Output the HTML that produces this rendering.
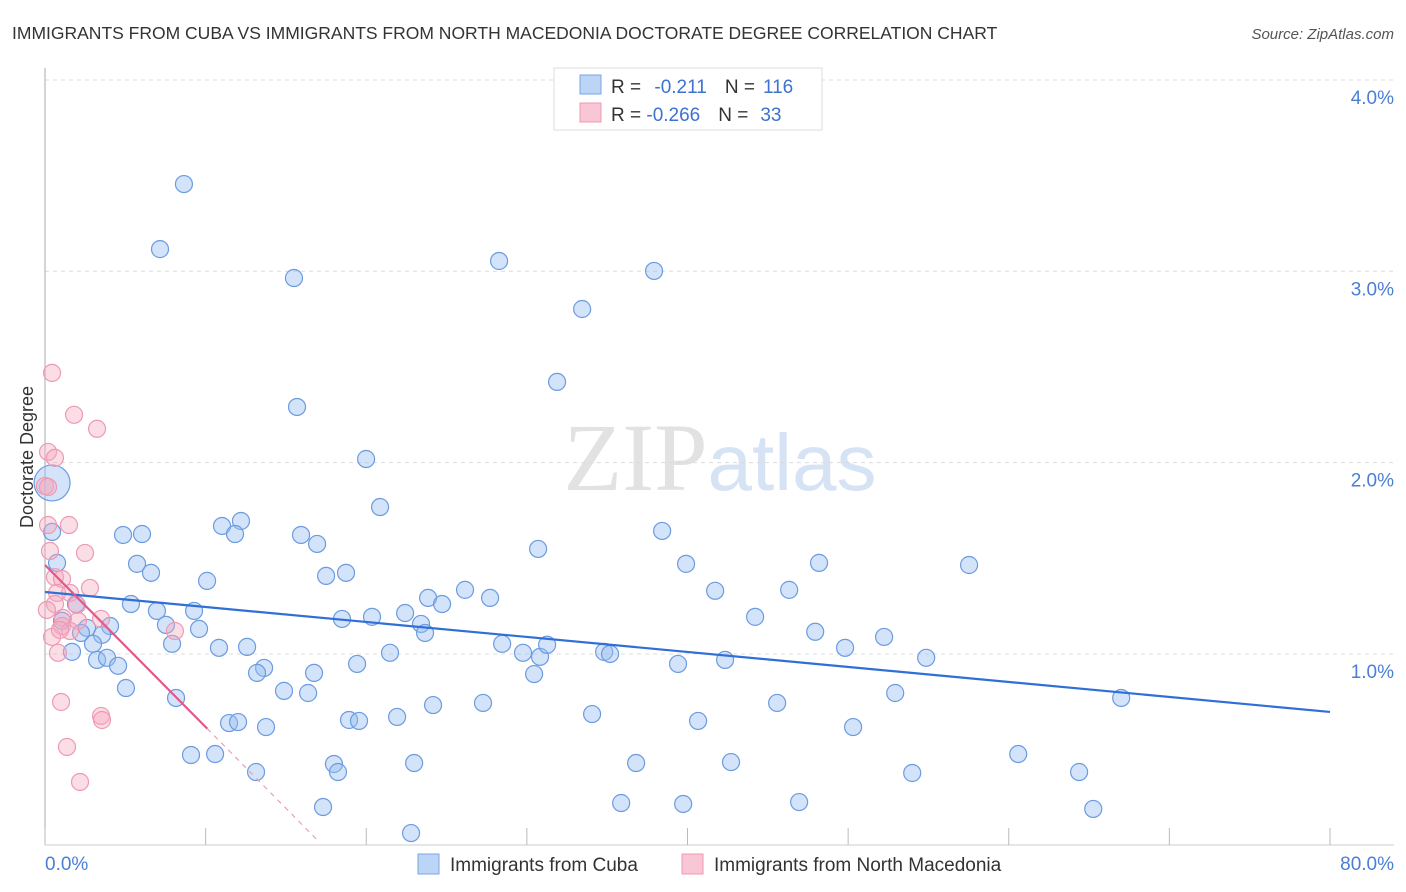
<!DOCTYPE html>
<html><head><meta charset="utf-8"><style>
body{margin:0;background:#fff;font-family:"Liberation Sans",sans-serif;}
</style></head><body>
<svg id="chart" width="1406" height="892" xmlns="http://www.w3.org/2000/svg" style="display:block">
<text x="12" y="39" font-size="17.5" fill="#333">IMMIGRANTS FROM CUBA VS IMMIGRANTS FROM NORTH MACEDONIA DOCTORATE DEGREE CORRELATION CHART</text>
<text x="1394" y="39" font-size="15" fill="#555" text-anchor="end" font-style="italic">Source: ZipAtlas.com</text>
<text x="720" y="490" font-size="96" text-anchor="middle"><tspan font-family="Liberation Serif" fill="#e2e2e2">ZIP</tspan><tspan fill="#d6e3f5" font-size="80">atlas</tspan></text>
<g id="grid"></g>
<g id="axes"></g>
<g id="pts"></g>
<g id="trends"></g>
<text transform="translate(33,457) rotate(-90)" font-size="18" fill="#333" text-anchor="middle">Doctorate Degree</text>
<text x="45" y="870" font-size="19" fill="#4a7fd4">0.0%</text>
<text x="1394" y="870" font-size="19" fill="#4a7fd4" text-anchor="end">80.0%</text>
<g>
<rect x="554" y="68" width="268" height="62" fill="#fff" stroke="#ddd"/>
<rect x="580" y="75" width="21" height="19" fill="#bcd4f5" stroke="#7aa6e6"/>
<rect x="580" y="103" width="21" height="19" fill="#f9c6d5" stroke="#ef98b2"/>
<text x="611" y="93" font-size="19" fill="#333">R = <tspan fill="#3d72cf" dx="8">-0.211</tspan><tspan dx="18" fill="#333">N =</tspan><tspan dx="8" fill="#3d72cf">116</tspan></text>
<text x="611" y="121" font-size="19" fill="#333">R = <tspan fill="#3d72cf">-0.266</tspan><tspan dx="18" fill="#333">N =</tspan><tspan dx="12" fill="#3d72cf">33</tspan></text>
</g>
<g>
<rect x="418" y="854" width="21" height="20" fill="#bcd4f5" stroke="#7aa6e6"/>
<text x="450" y="871" font-size="19" fill="#333">Immigrants from Cuba</text>
<rect x="682" y="854" width="21" height="20" fill="#f9c6d5" stroke="#ef98b2"/>
<text x="714" y="871" font-size="19" fill="#333">Immigrants from North Macedonia</text>
</g>
</svg>
<script>
const yTicks=[1,2,3,4];
const yTickLabels=["1.0%","2.0%","3.0%","4.0%"];
const xTicks=[0,10,20,30,40,50,60,70,80];
const cubaPts=[[8.65,3.456],[7.16,3.116],[15.50,2.965],[28.27,3.054],[37.92,3.002],[33.44,2.803],[31.88,2.422],[15.69,2.291],[19.99,2.019],[20.86,1.768],[0.44,1.638],[4.86,1.622],[6.04,1.627],[11.02,1.669],[12.20,1.695],[11.83,1.627],[15.94,1.622],[16.94,1.575],[30.70,1.549],[38.42,1.643],[39.91,1.471],[48.19,1.476],[57.53,1.465],[0.75,1.476],[5.73,1.471],[6.60,1.424],[10.09,1.382],[17.50,1.408],[18.74,1.424],[26.15,1.335],[27.71,1.293],[23.85,1.293],[24.72,1.261],[22.42,1.214],[23.41,1.157],[20.36,1.194],[18.49,1.183],[41.72,1.330],[46.33,1.335],[44.21,1.194],[5.35,1.261],[6.97,1.225],[9.28,1.225],[1.93,1.261],[1.06,1.173],[2.62,1.136],[4.05,1.146],[7.53,1.152],[9.59,1.131],[2.24,1.110],[3.55,1.100],[1.68,1.011],[2.99,1.053],[7.91,1.053],[10.83,1.032],[12.58,1.037],[13.64,0.927],[13.20,0.901],[16.75,0.901],[19.43,0.948],[21.48,1.006],[23.66,1.110],[28.46,1.053],[29.76,1.006],[30.82,0.985],[31.26,1.048],[30.45,0.895],[34.81,1.011],[35.18,1.000],[39.41,0.948],[42.34,0.969],[47.95,1.116],[49.81,1.032],[52.24,1.089],[54.86,0.980],[3.24,0.969],[3.86,0.980],[4.55,0.938],[5.04,0.822],[8.16,0.770],[14.88,0.807],[16.38,0.796],[24.16,0.733],[27.27,0.744],[21.92,0.671],[18.93,0.655],[19.55,0.650],[11.46,0.639],[12.02,0.644],[13.76,0.618],[34.06,0.686],[40.66,0.650],[45.58,0.744],[52.93,0.796],[67.00,0.770],[50.31,0.618],[9.09,0.472],[10.59,0.477],[13.14,0.383],[17.99,0.425],[18.24,0.383],[22.98,0.430],[36.80,0.430],[42.71,0.435],[60.59,0.477],[53.99,0.378],[64.38,0.383],[17.31,0.200],[22.79,0.064],[35.87,0.221],[39.73,0.216],[46.95,0.226],[65.26,0.190]];
const cubaBig=[[0.44,1.894]];
const macPts=[[0.44,2.469],[1.81,2.250],[3.24,2.177],[0.19,2.056],[0.62,2.025],[0,1.878],[0.19,1.674],[1.49,1.674],[0.31,1.538],[2.49,1.528],[0.62,1.402],[1.06,1.392],[2.80,1.345],[0.75,1.319],[1.56,1.319],[0.62,1.261],[1.99,1.256],[1.12,1.188],[1.06,1.146],[2.05,1.173],[1.56,1.120],[3.49,1.183],[0.44,1.089],[8.09,1.120],[0.81,1.006],[1.00,0.749],[3.49,0.676],[3.55,0.655],[1.37,0.514],[2.18,0.331],[0.93,1.126],[0.12,1.230],[0.19,1.873]];
const cubaTrend=[[0,1.324],[80,0.697]];
const macTrendSolid=[[0,1.465],[10.1,0.61]];
const macTrendDash=[[10.1,0.61],[17.1,0.015]];

const NS="http://www.w3.org/2000/svg";
const X=v=>45+v*1285/80;
const Y=v=>845.3-v*191.33;
function mk(t,a,p){const e=document.createElementNS(NS,t);for(const k in a)e.setAttribute(k,a[k]);p.appendChild(e);return e;}
const grid=document.getElementById('grid'),axes=document.getElementById('axes'),pts=document.getElementById('pts'),tr=document.getElementById('trends');
yTicks.forEach((v,i)=>{
  const l=mk('line',{x1:45,x2:1394,y1:Y(v),y2:Y(v),stroke:'#dcdcdc','stroke-dasharray':'4,4'},grid);
  
  
  const t=mk('text',{x:1394,y:Y(v)+24,'font-size':19,fill:'#4a7fd4','text-anchor':'end'},grid);
  t.textContent=yTickLabels[i];
  
  
});
mk('line',{x1:45,x2:45,y1:68,y2:845,stroke:'#aaa'},axes);
mk('line',{x1:45,x2:1394,y1:845,y2:845,stroke:'#ccc'},axes);
xTicks.forEach(v=>{
  const l=mk('line',{x1:X(v),x2:X(v),y1:828,y2:845,stroke:'#bbb'},axes);
  
  
});
cubaPts.forEach(p=>{
  const c=mk('circle',{cx:X(p[0]),cy:Y(p[1]),r:8.5,fill:'rgba(150,188,240,0.42)',stroke:'#6b9be0','stroke-width':1.2},pts);
  
  
});
cubaBig.forEach(p=>{
  const c=mk('circle',{cx:X(p[0]),cy:Y(p[1]),r:18,fill:'rgba(150,188,240,0.42)',stroke:'#6b9be0','stroke-width':1.2},pts);
  
  
});
macPts.forEach(p=>{
  const c=mk('circle',{cx:X(p[0]),cy:Y(p[1]),r:8.5,fill:'rgba(246,170,192,0.4)',stroke:'#ee9ab4','stroke-width':1.2},pts);
  
  
});
function ln(a,st,w,dash,name){const l=mk('line',{x1:X(a[0][0]),y1:Y(a[0][1]),x2:X(a[1][0]),y2:Y(a[1][1]),stroke:st,'stroke-width':w},tr);if(dash)l.setAttribute('stroke-dasharray',dash);
  
  }
ln(cubaTrend,'#2f6fd6',2.2,null,'cuba-trend-line');
ln(macTrendSolid,'#e2588a',2.2,null,'macedonia-trend-line');
ln(macTrendDash,'#e8a0b8',1.2,'5,5','macedonia-trend-extension');
</script>
</body></html>
